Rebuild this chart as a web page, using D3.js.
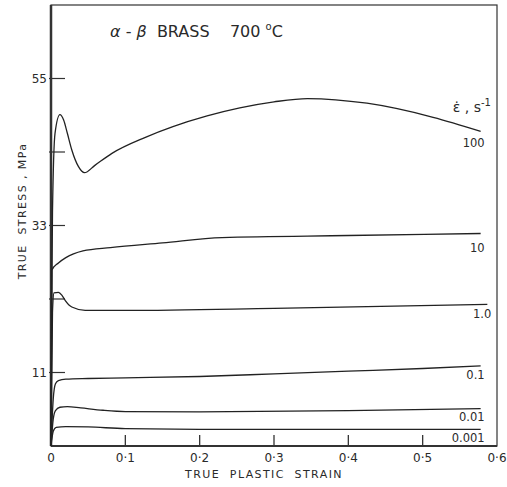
<!DOCTYPE html>
<html>
<head>
<meta charset="utf-8">
<script src="https://cdn.jsdelivr.net/npm/d3@7"></script>
<style>
  body { margin: 0; background: #fff; }
  text { font-family: "DejaVu Sans", sans-serif; fill: #2a2a2a; white-space: pre; }
</style>
</head>
<body>
<svg id="chart" width="507" height="487"></svg>
<script>
// strain rate labels (s^-1) and curves: [true plastic strain, true stress MPa]
const rates = ["100", "10", "1.0", "0.1", "0.01", "0.001"];

const curve100 = [[0, 0], [0.001, 20], [0.002, 35], [0.0054, 46.8], [0.012, 49.6], [0.017, 48.8],
  [0.022, 46.8], [0.028, 44.3], [0.037, 41.8], [0.045, 40.9], [0.059, 42], [0.082, 43.8],
  [0.127, 46.2], [0.164, 47.8], [0.21, 49.4], [0.254, 50.6], [0.3, 51.5],
  [0.345, 52], [0.425, 51.3], [0.514, 49.2], [0.578, 47.1]];
const curve10 = [[0, 0], [0.001, 26.3], [0.01, 27.4], [0.02, 28.2], [0.043, 29.2], [0.08, 29.7],
  [0.15, 30.4], [0.23, 31.2], [0.4, 31.5], [0.578, 31.8]];
const curve1 = [[0, 0], [0.002, 20], [0.004, 22.9], [0.01, 23], [0.015, 22.5], [0.019, 21.8],
  [0.028, 20.8], [0.046, 20.3], [0.1, 20.3], [0.3, 20.6], [0.587, 21.2]];
const curve01 = [[0, 0], [0.003, 7], [0.006, 9.3], [0.01, 9.8], [0.02, 10], [0.05, 10.1],
  [0.1, 10.2], [0.2, 10.4], [0.3, 10.8], [0.4, 11.2], [0.5, 11.6], [0.578, 12]];
const curve001 = [[0, 0], [0.003, 4], [0.006, 5.3], [0.012, 5.8], [0.022, 5.9], [0.04, 5.7],
  [0.07, 5.35], [0.1, 5.15], [0.2, 5.1], [0.4, 5.3], [0.578, 5.6]];
const curve0001 = [[0, 0], [0.003, 2.2], [0.007, 2.8], [0.02, 2.9], [0.05, 2.85], [0.1, 2.6],
  [0.2, 2.5], [0.578, 2.5]];
const curves = [curve100, curve10, curve1, curve01, curve001, curve0001];

// label positions (stress, MPa) just under each curve end
const labelStress = [45.4, 29.6, 19.8, 10.7, 4.35, 1.2];

const xTicks = [0, 0.1, 0.2, 0.3, 0.4, 0.5, 0.6];
const yTicks = [11, 22, 33, 44, 55];
const yLabels = { 11: "11", 33: "33", 55: "55" };

const margin = { left: 51, right: 10, top: 5, bottom: 41 };
const width = 507 - margin.left - margin.right;
const height = 487 - margin.top - margin.bottom;

const svg = d3.select("#chart");
const g = svg.append("g").attr("transform", `translate(${margin.left},${margin.top})`);

const x = d3.scaleLinear().domain([0, 0.6]).range([0, width]);
const y = d3.scaleLinear().domain([0, 66]).range([height, 0]);

// frame
g.append("rect")
  .attr("width", width).attr("height", height)
  .attr("fill", "none").attr("stroke", "#333").attr("stroke-width", 1.2);

// x axis ticks (pointing inward)
g.selectAll(".xt").data(xTicks.filter((d) => d > 0 && d < 0.6)).join("line")
  .attr("x1", (d) => x(d)).attr("x2", (d) => x(d))
  .attr("y1", height).attr("y2", height - 11)
  .attr("stroke", "#333").attr("stroke-width", 1.3);
g.selectAll(".xl").data(xTicks).join("text")
  .attr("x", (d) => x(d)).attr("y", height + 16)
  .attr("text-anchor", "middle").attr("font-size", 12)
  .text((d) => (d === 0 ? "0" : d3.format(".1f")(d).replace(".", "·")));

// y axis ticks
g.selectAll(".yt").data(yTicks).join("line")
  .attr("x1", -2).attr("x2", 14)
  .attr("y1", (d) => y(d)).attr("y2", (d) => y(d))
  .attr("stroke", "#333").attr("stroke-width", 1.2);
g.selectAll(".yl").data(yTicks.filter((d) => yLabels[d])).join("text")
  .attr("x", -4).attr("y", (d) => y(d)).attr("dy", "0.35em")
  .attr("text-anchor", "end").attr("font-size", 12)
  .text((d) => yLabels[d]);

// heavy axis lines
g.append("line").attr("x1", 0).attr("x2", 0).attr("y1", 0).attr("y2", height)
  .attr("stroke", "#333").attr("stroke-width", 2.5);
g.append("line").attr("x1", 0).attr("x2", width).attr("y1", height).attr("y2", height)
  .attr("stroke", "#333").attr("stroke-width", 2);

// curves
const line = d3.line().x((d) => x(d[0])).y((d) => y(d[1])).curve(d3.curveMonotoneX);
g.selectAll(".curve").data(curves).join("path")
  .attr("d", line)
  .attr("fill", "none").attr("stroke", "#222").attr("stroke-width", 1.3);

// strain-rate labels
g.selectAll(".rl").data(rates).join("text")
  .attr("x", (d, i) => x(curves[i][curves[i].length - 1][0]) + 4)
  .attr("y", (d, i) => y(labelStress[i])).attr("dy", "0.35em")
  .attr("text-anchor", "end").attr("font-size", 11.5)
  .text((d) => d);

const rateHead = g.append("text")
  .attr("x", width - 6).attr("y", y(50)).attr("text-anchor", "end").attr("font-size", 14);
rateHead.append("tspan").text("ε̇ , s");
rateHead.append("tspan").attr("dy", -6).attr("font-size", 10).text("-1");

// title
const title = svg.append("text").attr("x", 110).attr("y", 37).attr("font-size", 16);
title.append("tspan").attr("font-style", "italic").text("α");
title.append("tspan").text(" - ");
title.append("tspan").attr("font-style", "italic").text("β");
title.append("tspan").text("  BRASS    700 ");
title.append("tspan").attr("dy", -7).attr("font-size", 10).text("o");
title.append("tspan").attr("dy", 7).text("C");

// axis titles
svg.append("text")
  .attr("x", 264).attr("y", 478)
  .attr("text-anchor", "middle").attr("font-size", 11).attr("letter-spacing", 1.4)
  .text("TRUE  PLASTIC  STRAIN");
svg.append("text")
  .attr("transform", "translate(26,211) rotate(-90)")
  .attr("text-anchor", "middle").attr("font-size", 11).attr("letter-spacing", 1.4)
  .text("TRUE  STRESS , MPa");
</script>
</body>
</html>
